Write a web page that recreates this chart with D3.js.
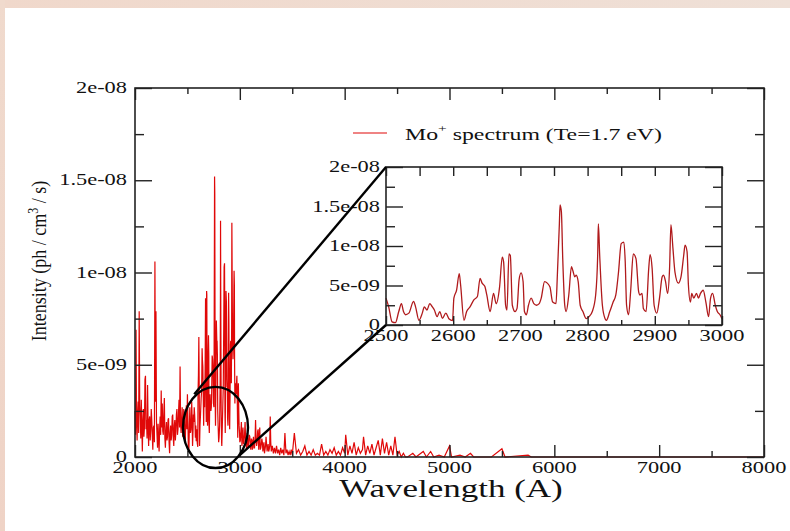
<!DOCTYPE html>
<html lang="en">
<head>
<meta charset="UTF-8" />
<title>Mo+ spectrum</title>
<script src="https://d3js.org/d3.v7.min.js"></script>
<style>
  body { margin: 0; overflow: hidden; background: #fff; }
  svg { display: block; }
  text { font-family: "Liberation Serif", "Times New Roman", serif; fill: #111; }
</style>
</head>
<body>
<svg id="chart" width="790" height="531"></svg>
<script>
// intensity in units of 1e-9 ph/cm^3/s, wavelength in A
const spectrumBlue = [
  [2000,2.5],[2005,1.2],[2010,6.9],[2015,2.0],[2020,0.9],[2025,2.4],[2030,3.0],[2035,1.3],[2040,7.9],[2045,2.8],
  [2050,2.2],[2055,1.0],[2060,3.1],[2065,1.8],[2070,0.3],[2075,1.9],[2080,2.6],[2085,1.1],[2090,1.6],[2095,4.2],
  [2100,4.4],[2105,1.5],[2110,2.0],[2115,1.0],[2120,3.9],[2125,1.7],[2130,0.6],[2135,2.0],[2140,2.2],[2145,0.9],
  [2150,1.5],[2155,2.6],[2160,2.0],[2165,1.1],[2170,0.4],[2175,1.6],[2180,1.7],[2185,0.8],[2190,10.6],[2195,3.0],
  [2200,7.9],[2205,1.9],[2210,1.2],[2215,0.5],[2220,1.8],[2225,1.0],[2230,0.3],[2235,1.5],[2240,2.2],[2245,1.2],
  [2250,3.6],[2255,1.6],[2260,2.9],[2265,1.4],[2270,1.2],[2275,2.4],[2280,3.2],[2285,1.0],[2290,0.5],[2295,1.4],
  [2300,1.9],[2305,0.9],[2310,1.1],[2315,2.0],[2320,2.1],[2325,0.8],[2330,0.2],[2335,1.3],[2340,1.7],[2345,0.9],
  [2350,1.2],[2355,2.2],[2360,2.3],[2365,1.0],[2370,0.6],[2375,1.7],[2380,2.0],[2385,0.9],[2390,1.4],[2395,2.3],
  [2400,2.6],[2405,1.2],[2410,1.5],[2415,2.4],[2420,3.1],[2425,1.6],[2430,4.9],[2435,1.9],[2440,1.3],[2445,2.0],
  [2450,2.7],[2455,1.1],[2460,1.4],[2465,2.6],[2470,2.1],[2475,1.0],[2480,0.9],[2485,2.2],[2490,2.8],[2495,1.5]
];
// same range as the inset (2500-3000 A)
const spectrumZoom = [
  [2500,3.4],[2504,2.3],[2509,0.4],[2514,0.3],[2519,1.7],[2523,2.7],[2526,1.7],[2529,1.3],[2534,1.5],[2541,3.0],
  [2544,2.3],[2549,0.6],[2554,1.5],[2557,2.3],[2561,1.9],[2565,2.7],[2569,2.3],[2572,1.9],[2576,1.05],[2580,1.7],
  [2584,0.85],[2589,1.5],[2594,0.75],[2599,0.55],[2601,3.4],[2605,4.4],[2609,6.5],[2611,5.1],[2616,0.6],[2620,1.7],
  [2625,2.3],[2631,3.2],[2636,3.6],[2640,5.9],[2643,5.3],[2647,4.9],[2650,3.8],[2655,1.7],[2660,4.0],[2664,2.7],
  [2669,4.8],[2673,8.6],[2675,8.0],[2678,2.5],[2680,1.9],[2683,9.0],[2685,8.8],[2688,2.5],[2692,1.7],[2695,2.1],
  [2698,5.7],[2701,6.6],[2704,5.5],[2706,1.7],[2709,1.3],[2712,2.5],[2716,3.4],[2720,2.7],[2724,2.5],[2728,2.7],
  [2731,3.4],[2736,5.5],[2740,5.3],[2744,4.8],[2748,2.9],[2753,2.7],[2755,6.3],[2758,12.8],[2759,15.2],[2761,14.3],
  [2763,8.4],[2766,2.5],[2768,1.7],[2772,3.8],[2776,7.4],[2778,6.9],[2781,6.1],[2783,6.3],[2786,5.5],[2789,2.5],
  [2793,1.7],[2798,0.8],[2802,1.05],[2807,1.7],[2812,3.8],[2815,8.8],[2816,12.8],[2818,8.8],[2822,2.5],[2826,0.8],
  [2828,0.6],[2833,1.7],[2838,2.9],[2842,3.8],[2846,6.7],[2850,10.3],[2854,10.5],[2856,8.0],[2858,2.5],[2861,1.3],
  [2864,4.2],[2868,9.0],[2872,8.4],[2876,4.2],[2878,3.8],[2881,4.0],[2883,2.1],[2887,1.7],[2891,7.2],[2893,8.9],
  [2896,7.2],[2899,2.5],[2903,1.5],[2907,3.4],[2911,6.1],[2913,6.3],[2916,5.5],[2919,4.0],[2922,7.2],[2924,12.7],
  [2927,9.7],[2930,6.7],[2935,5.3],[2939,6.1],[2943,8.8],[2945,10.1],[2948,9.3],[2950,5.1],[2953,2.9],[2955,4.0],
  [2958,3.4],[2962,4.0],[2965,3.4],[2968,4.0],[2972,4.4],[2976,2.9],[2980,1.05],[2983,3.4],[2986,4.0],[2990,2.5],
  [2993,1.7],[2997,1.3],[3000,0.8]
];
const spectrumNearUV = [
  [3005,0.9],[3010,1.4],[3015,1.9],[3020,0.6],[3025,1.1],[3030,1.6],[3035,0.7],[3040,0.8],[3045,1.2],[3050,1.9],
  [3055,1.0],[3060,0.7],[3065,0.4],[3070,1.3],[3075,1.0],[3080,0.5],[3085,0.9],[3090,1.2],[3095,1.1],[3100,0.6],
  [3105,0.4],[3110,1.0],[3115,0.9],[3120,0.4],[3125,0.8],[3130,1.1],[3135,0.5],[3140,0.5],[3145,0.9],[3150,2.0],
  [3155,1.0],[3160,0.6],[3165,0.8],[3170,1.4],[3175,1.5],[3180,0.4],[3185,0.9],[3190,1.6],[3195,0.4],[3200,0.5],
  [3205,0.7],[3210,1.0],[3215,0.8],[3220,0.3],[3225,0.6],[3230,0.8],[3235,0.2],[3240,0.4],[3245,0.6],[3250,1.1],
  [3255,0.7],[3260,0.3],[3265,0.5],[3270,0.7],[3275,0.3],[3280,0.4],[3285,0.6],[3290,2.2],[3295,0.8],[3300,0.3],
  [3310,0.6],[3320,0.2],[3330,0.5],[3340,0.2],[3350,0.6],[3360,0.2],[3370,0.4],[3380,0.1],[3390,0.5],[3400,0.2],
  [3410,0.4],[3420,0.1],[3430,1.3],[3440,0.2],[3450,0.4],[3460,0.1],[3470,0.3],[3480,0.1],[3490,0.4],[3500,0.1],
  [3520,1.3],[3540,0.2],[3560,0.4],[3580,0.1],[3600,0.3],[3620,0.6],[3640,0.1],[3660,0.3],[3680,0.1],[3700,0.4],
  [3720,0.1],[3740,0.2],[3760,0.1],[3780,0.7],[3800,0.1],[3820,0.3],[3840,0.1],[3860,0.4],[3880,0.2],[3900,0.5],
  [3920,0.1],[3940,0.3],[3960,0.1],[3980,0.5],[4000,0.2],[4010,1.2],[4030,0.1],[4050,0.6],[4070,0.2],[4090,0.8],
  [4110,0.1],[4130,0.5],[4150,0.2],[4170,0.4],[4180,1.1],[4200,0.1],[4220,0.6],[4240,0.2],[4260,0.7],[4280,0.1],
  [4300,0.5],[4320,0.9],[4340,0.1],[4360,1.0],[4380,0.2],[4400,0.8],[4420,0.1],[4440,0.6],[4460,0.1],[4480,1.1],
  [4500,0.1],[4520,0.3],[4540,0.0],[4560,0.2],[4580,0.0]
];
const spectrumVisible = [
  [4600,0.0],[4650,0.2],[4680,0.0],[4750,0.3],[4780,0.0],[4820,0.3],[4850,0.0],[4900,0.1],[4950,0.0],[5000,0.6],
  [5020,0.0],[5100,0.1],[5150,0.0],[5200,0.2],[5230,0.0],[5400,0.0],[5500,0.45],[5530,0.0],[5750,0.1],[5780,0.0],
  [6000,0.0],[8000,0.0]
];
const spectrum = [...spectrumBlue, ...spectrumZoom, ...spectrumNearUV, ...spectrumVisible];

const mainXTicks = [2000, 3000, 4000, 5000, 6000, 7000, 8000];
const mainXMinor = [2500, 3500, 4500, 5500, 6500, 7500];
const yTicks = [0, 5, 10, 15, 20];
const yMinor = [2.5, 7.5, 12.5, 17.5];
const yTickLabels = ["0", "5e-09", "1e-08", "1.5e-08", "2e-08"];
const insetXTicks = [2500, 2600, 2700, 2800, 2900, 3000];
const insetXMinor = [2550, 2650, 2750, 2850, 2950];

const svg = d3.select("#chart");
const SX = 1.4; // the source picture is stretched sideways, text follows it
const red = "#e00808";

// pink frame of the slide
const defs = svg.append("defs");
const gTop = defs.append("linearGradient").attr("id", "gTop");
gTop.append("stop").attr("offset", "0").attr("stop-color", "#f0d8cb");
gTop.append("stop").attr("offset", "1").attr("stop-color", "#efe0d7");
const gLeft = defs.append("linearGradient").attr("id", "gLeft").attr("x2", 0).attr("y2", 1);
gLeft.append("stop").attr("offset", "0").attr("stop-color", "#f0dacd");
gLeft.append("stop").attr("offset", "1").attr("stop-color", "#efd3c6");
svg.append("rect").attr("x", 0).attr("y", 0).attr("width", 790).attr("height", 8).attr("fill", "url(#gTop)");
svg.append("rect").attr("x", 0).attr("y", 0).attr("width", 5).attr("height", 531).attr("fill", "url(#gLeft)");

const x = d3.scaleLinear().domain([2000, 8000]).range([135, 764]);
const y = d3.scaleLinear().domain([0, 20]).range([457, 88]);
const xi = d3.scaleLinear().domain([2500, 3000]).range([386, 722]);
const yi = d3.scaleLinear().domain([0, 20]).range([325, 167]);

function label(px, py, str, anchor, size) {
  return svg.append("text")
    .attr("transform", `translate(${px},${py}) scale(${SX},1)`)
    .attr("text-anchor", anchor)
    .attr("font-size", size)
    .text(str);
}

function ticks(axis, scale, values, size, tx, ty) {
  svg.append("g")
    .attr("transform", `translate(${tx},${ty})`)
    .call(axis(scale).tickValues(values).tickSize(-size).tickFormat(""))
    .call(g => g.select(".domain").remove())
    .call(g => g.selectAll("line").attr("stroke", "#222").attr("stroke-width", 1.4));
}

function frame(xs, ys) {
  const [x0, x1] = xs.range();
  const [y0, y1] = ys.range();
  svg.append("rect")
    .attr("x", x0).attr("y", y1)
    .attr("width", x1 - x0).attr("height", y0 - y1)
    .attr("fill", "none").attr("stroke", "#222").attr("stroke-width", 1.6);
}

// main spectrum
svg.append("path")
  .datum(spectrum)
  .attr("fill", "none")
  .attr("stroke", red)
  .attr("stroke-width", 1.2)
  .attr("d", d3.line().x(d => x(d[0])).y(d => y(d[1])));

ticks(d3.axisBottom, x, mainXTicks, 12, 0, 457);
ticks(d3.axisBottom, x, mainXMinor, 6, 0, 457);
ticks(d3.axisTop, x, mainXTicks, 12, 0, 88);
ticks(d3.axisTop, x, mainXMinor, 6, 0, 88);
ticks(d3.axisLeft, y, yTicks, 17, 135, 0);
ticks(d3.axisLeft, y, yMinor, 9, 135, 0);
ticks(d3.axisRight, y, yTicks, 17, 764, 0);
ticks(d3.axisRight, y, yMinor, 9, 764, 0);
frame(x, y);

mainXTicks.forEach(t => label(x(t), 473, t, "middle", 16));
yTicks.forEach((t, i) => label(127, y(t) + 5, yTickLabels[i], "end", 16));

label(451, 497, "Wavelength (A)", "middle", 25);

const yLab = svg.append("text")
  .attr("transform", `translate(46,261) scale(1.2,1) rotate(-90)`)
  .attr("text-anchor", "middle")
  .attr("font-size", 18);
yLab.append("tspan").text("Intensity (ph / cm");
yLab.append("tspan").attr("dy", -7).attr("font-size", 12).text("3");
yLab.append("tspan").attr("dy", 7).text(" / s)");

// legend
svg.append("line")
  .attr("x1", 353).attr("x2", 387).attr("y1", 133).attr("y2", 133)
  .attr("stroke", red).attr("stroke-width", 1.2);
const leg = svg.append("text")
  .attr("transform", `translate(405,140) scale(${SX},1)`)
  .attr("font-size", 17);
leg.append("tspan").text("Mo");
leg.append("tspan").attr("dy", -8).attr("font-size", 11).text("+");
leg.append("tspan").attr("dy", 8).text(" spectrum (Te=1.7 eV)");

// inset
svg.append("rect")
  .attr("x", 386).attr("y", 167).attr("width", 336).attr("height", 158)
  .attr("fill", "#fff");
svg.append("path")
  .datum(spectrumZoom)
  .attr("fill", "none")
  .attr("stroke", "#b01a1c")
  .attr("stroke-width", 1.3)
  .attr("d", d3.line().curve(d3.curveMonotoneX).x(d => xi(d[0])).y(d => yi(d[1])));

ticks(d3.axisBottom, xi, insetXTicks, 9, 0, 325);
ticks(d3.axisBottom, xi, insetXMinor, 5, 0, 325);
ticks(d3.axisTop, xi, insetXTicks.concat(insetXMinor), 9, 0, 167);
ticks(d3.axisLeft, yi, yTicks, 17, 386, 0);
ticks(d3.axisLeft, yi, yMinor, 9, 386, 0);
ticks(d3.axisRight, yi, yTicks, 17, 722, 0);
ticks(d3.axisRight, yi, yMinor, 9, 722, 0);
frame(xi, yi);

insetXTicks.forEach(t => label(xi(t), 341, t, "middle", 16));
yTicks.forEach((t, i) => label(380, yi(t) + 5, yTickLabels[i], "end", 16));

// zoom marker: ellipse around 2500-3000 A and lines to the inset corners
const ring = { w: 2768, v: 1.6, rw: 310, rv: 2.2 };
svg.append("ellipse")
  .attr("cx", x(ring.w)).attr("cy", y(ring.v))
  .attr("rx", x(ring.w + ring.rw) - x(ring.w))
  .attr("ry", y(0) - y(ring.rv))
  .attr("fill", "none").attr("stroke", "#000").attr("stroke-width", 2.4);
svg.append("line")
  .attr("x1", x(2565)).attr("y1", y(3.4))
  .attr("x2", xi(2500)).attr("y2", yi(20))
  .attr("stroke", "#000").attr("stroke-width", 2.4);
svg.append("line")
  .attr("x1", x(3002)).attr("y1", y(0.11))
  .attr("x2", xi(2500)).attr("y2", yi(0))
  .attr("stroke", "#000").attr("stroke-width", 2.4);
</script>
</body>
</html>
